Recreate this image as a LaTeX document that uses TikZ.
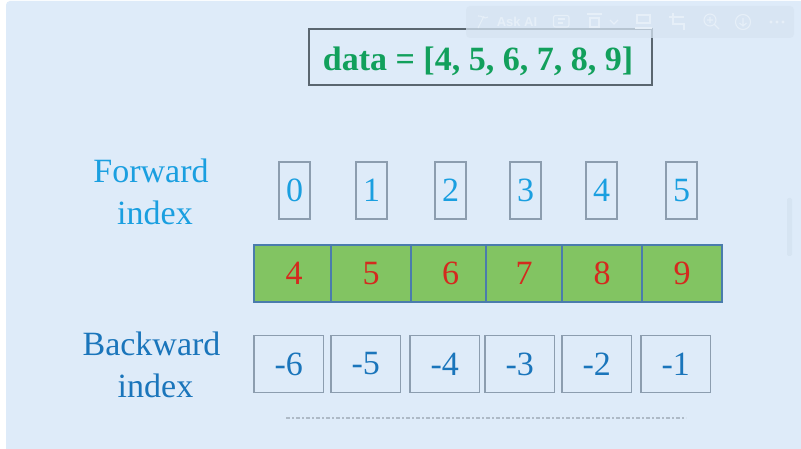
\documentclass[tikz,border=0pt]{standalone}
\usepackage{fontspec}
\setmainfont{Liberation Serif}
\newfontfamily\toolfont{Liberation Sans}
\usetikzlibrary{positioning}

\definecolor{panelblue}{HTML}{DEEBF9}
\definecolor{toolgrey}{HTML}{D6E4F2}
\definecolor{toolicon}{HTML}{E6EFF8}
\definecolor{titlegreen}{HTML}{12A05C}
\definecolor{titleline}{HTML}{5A6670}
\definecolor{cellgreen}{HTML}{82C462}
\definecolor{cellline}{HTML}{4A7CAC}
\definecolor{boxgrey}{HTML}{8C9DAF}
\definecolor{forwardblue}{HTML}{1A9FE0}
\definecolor{backwardblue}{HTML}{1A75BB}
\definecolor{valuered}{HTML}{D42A1E}

\begin{document}
\begin{tikzpicture}[
    x=1pt, y=-1pt,
    idxtext/.style={font=\fontsize{34}{34}\selectfont},
    title/.style={rectangle, draw=titleline, line width=1.3pt, outer sep=0pt, minimum width=343pt, minimum height=56pt, text height=33pt, font=\fontsize{34}{34}\selectfont\bfseries, text=titlegreen},
    label/.style={align=center, font=\fontsize{34}{43}\selectfont},
    forward/.style={rectangle, draw=boxgrey, line width=1.4pt, outer sep=0pt, inner sep=0pt, minimum width=31pt, minimum height=57pt, idxtext, text=forwardblue},
    cell/.style={rectangle, draw=cellline, fill=cellgreen, line width=1.5pt, outer sep=0pt, inner sep=0pt, minimum height=57pt, idxtext, text=valuered},
    backward/.style={rectangle, draw=boxgrey, line width=1.4pt, outer sep=0pt, inner sep=0pt, minimum width=69.5pt, minimum height=57pt, idxtext, text=backwardblue},
    toolicon/.style={draw=toolicon, line width=1.1pt}
]

% Page and panel
\path[use as bounding box, fill=white] (0,0) rectangle (801,449);
\fill[panelblue, rounded corners=4pt] (6,1) rectangle (805,455);

% Title
\node[title] (data) at (480.5,57) {data = [4, 5, 6, 7, 8, 9]\hspace*{5pt}};

% Toolbar over the picture
\fill[toolgrey, opacity=0.75, rounded corners=4pt] (466,6) rectangle (794,38);
\node[text=toolicon, font=\toolfont\bfseries\fontsize{13}{13}\selectfont, inner sep=0pt] (askai) at (517,22) {Ask AI};
\draw[toolicon] (478,28) -- (484,16) (478,16) .. controls (482,15) and (484,20) .. (488,17);
\draw[toolicon, rounded corners=2pt] (553.5,15.5) rectangle (569,27);
\draw[toolicon] (558,19) -- (565,19) (558,23) -- (563,23);
\draw[toolicon] (587,14) -- (602,14);
\draw[toolicon] (590,18) rectangle (599,27);
\draw[toolicon] (610,20) -- (614,24) -- (618,20);
\draw[toolicon] (637,15) rectangle (650,23) (635,28) -- (652,28);
\draw[toolicon] (669,17) -- (684,17) (673,13) -- (673,24) -- (684,24) -- (684,30);
\draw[toolicon] (710,20) circle (6pt) (714.5,24.5) -- (719,29) (707,20) -- (713,20) (710,17) -- (710,23);
\draw[toolicon] (743,22) circle (7.5pt) (743,18) -- (743,26) (739.5,23) -- (743,26) -- (746.5,23);
\fill[toolicon] (771,22) circle (1.2pt) (777,22) circle (1.2pt) (783,22) circle (1.2pt);
\fill[toolgrey, rounded corners=2pt] (787,198) rectangle (792,256);

% Row labels
\node[label, text=forwardblue] (forwardlbl) at (151,192) {Forward\\[-1pt]\hspace*{8pt}index};
\node[label, text=backwardblue] (backwardlbl) at (151.5,364.5) {Backward\\[-1pt]\hspace*{8pt}index};

% Values
\node[cell, minimum width=77pt] (v4) at (292.5,273.5) {\hspace*{3pt}4};
\node[cell, minimum width=80pt, right=0pt of v4] (v5) {5};
\node[cell, minimum width=75pt, right=0pt of v5] (v6) {\hspace*{4pt}6};
\node[cell, minimum width=76pt, right=0pt of v6] (v7) {7};
\node[cell, minimum width=80pt, right=0pt of v7] (v8) {8};
\node[cell, minimum width=80pt, right=0pt of v8] (v9) {9};

% Forward index
\node[forward] (f0) at (294.5,190.5) {0};
\node[forward, right=46pt of f0] (f1) {1};
\node[forward, right=48pt of f1] (f2) {2};
\node[forward, right=44pt of f2] (f3) {3};
\node[forward, right=45pt of f3] (f4) {4};
\node[forward, right=49pt of f4] (f5) {5};

% Backward index
\node[backward] (b6) at (288.75,364) {-6};
\node[backward, right=7.5pt of b6] (b5) {-5};
\node[backward, right=9.5pt of b5] (b4) {-4};
\node[backward, right=5.5pt of b4] (b3) {-3};
\node[backward, right=7.5pt of b3] (b2) {-2};
\node[backward, right=9.5pt of b2] (b1) {-1};

% Dotted rule under the table
\coordinate (rulestart) at (286,418);
\coordinate (ruleend) at (686,418);
\draw[boxgrey!70, line width=1.6pt, dash pattern=on 4pt off 2pt on 1.5pt off 2.5pt] (rulestart) -- (ruleend);

\end{tikzpicture}
\end{document}
